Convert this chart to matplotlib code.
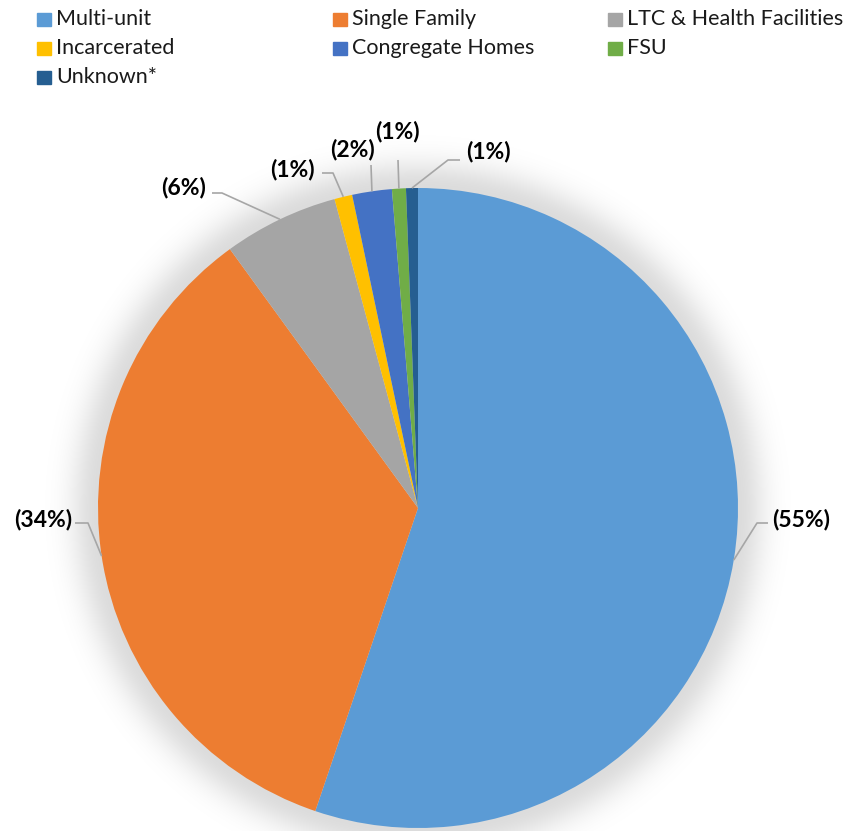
import matplotlib.pyplot as plt
import numpy as np

# Datos
categorias = ['Multi-unit', 'Single Family', 'LTC & Health Facilities',
              'Incarcerated', 'Congregate Homes', 'FSU', 'Unknown*']
porcentajes = [55.2, 34.8, 5.8, 0.9, 2.0, 0.7, 0.6]
etiquetas_pct = [55, 34, 6, 1, 2, 1, 1]
colores = ['#5B9BD5', '#ED7D31', '#A5A5A5', '#FFC000', '#4472C4', '#70AD47', '#255E91']

W, H = 856, 831
CX, CY, R = 418, 508, 320

plt.rcParams['font.family'] = ['Lato', 'DejaVu Sans']

fig = plt.figure(figsize=(W / 100, H / 100), dpi=100)
ax = fig.add_axes([0, 0, 1, 1])


def py(y):
    # coordenada de imagen (y hacia abajo) -> datos (y hacia arriba)
    return H - y


# Sombra difusa alrededor del pastel
xx, yy = np.meshgrid(np.arange(W) + 0.5, np.arange(H) + 0.5)
d = np.hypot(xx - CX, yy - CY) - R
alpha = np.where(d > 0, 0.14 * np.exp(-(d / 28.0) ** 2), 0.14)
glow = np.zeros((H, W, 4))
glow[..., 3] = alpha
ax.imshow(glow, extent=(0, W, 0, H), origin='upper', zorder=0, interpolation='bilinear')

wedges, _ = ax.pie(porcentajes, colors=colores, startangle=90, counterclock=False,
                   center=(CX, py(CY)), radius=R, wedgeprops=dict(linewidth=0))
for w in wedges:
    w.set_zorder(2)

# Posición de cada etiqueta (centro del texto) y punto de inicio de la línea guía
pos_texto = [(801, 519), (43, 519), (184, 188), (292, 170), (353, 149), (397, 132), (488, 152)]
inicio_linea = [(768, 523), (75, 523), (212, 193), (322, 173), (371, 165), (398, 160), (460, 160)]
codo = [(757, 523), (88, 523), (222, 193), (333, 173), None, None, (448, 160)]

for i, w in enumerate(wedges):
    ang = np.deg2rad((w.theta1 + w.theta2) / 2)
    ex = CX + R * np.cos(ang)
    ey = CY - R * np.sin(ang)
    pts = [inicio_linea[i]]
    if codo[i] is not None:
        pts.append(codo[i])
    pts.append((ex, ey))
    ax.plot([p[0] for p in pts], [py(p[1]) for p in pts], color='#A6A6A6',
            linewidth=1.2, zorder=3, solid_capstyle='butt')
    tx, ty = pos_texto[i]
    ax.text(tx, py(ty), f'({etiquetas_pct[i]}%)', ha='center', va='center',
            fontsize=16.5, fontweight='bold', color='black', zorder=4)

# Leyenda manual en tres columnas
col_x = [37, 333, 608]
fila_y = [19, 48, 77]
for i, (cat, col) in enumerate(zip(categorias, colores)):
    x = col_x[i % 3]
    y = fila_y[i // 3]
    ax.add_patch(plt.Rectangle((x, py(y) - 6.5), 14, 13, color=col, zorder=4))
    ax.text(x + 19, py(y), cat, ha='left', va='center', fontsize=15.5,
            color='#1A1A1A', zorder=4)

ax.set_xlim(0, W)
ax.set_ylim(0, H)
ax.set_aspect('equal')
ax.axis('off')

fig.savefig('out.png', dpi=100)
